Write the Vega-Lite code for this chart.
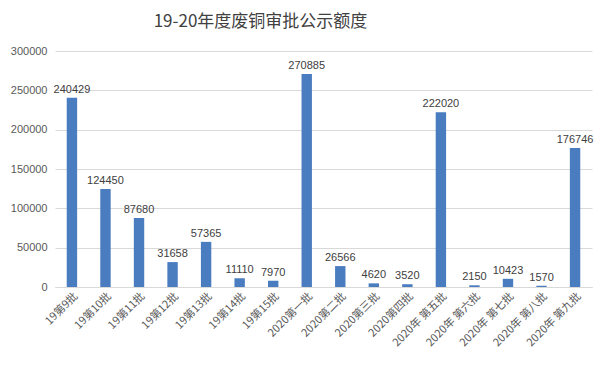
{
  "$schema": "https://vega.github.io/schema/vega-lite/v6.json",
  "autosize": "none",
  "width": 537,
  "height": 236,
  "padding": {"left": 55, "top": 51, "right": 15, "bottom": 82},
  "background": "white",
  "title": {
    "text": "19-20年度废铜审批公示额度",
    "font": "Noto Sans CJK SC",
    "fontSize": 17,
    "fontWeight": "normal",
    "color": "#404040",
    "anchor": "middle",
    "dx": -63,
    "offset": 14
  },
  "data": {
    "values": [
      {"batch": "19第9批", "value": 240429},
      {"batch": "19第10批", "value": 124450},
      {"batch": "19第11批", "value": 87680},
      {"batch": "19第12批", "value": 31658},
      {"batch": "19第13批", "value": 57365},
      {"batch": "19第14批", "value": 11110},
      {"batch": "19第15批", "value": 7970},
      {"batch": "2020第一批", "value": 270885},
      {"batch": "2020第二批", "value": 26566},
      {"batch": "2020第三批", "value": 4620},
      {"batch": "2020第四批", "value": 3520},
      {"batch": "2020年 第五批", "value": 222020},
      {"batch": "2020年 第六批", "value": 2150},
      {"batch": "2020年 第七批", "value": 10423},
      {"batch": "2020年 第八批", "value": 1570},
      {"batch": "2020年 第九批", "value": 176746}
    ]
  },
  "encoding": {
    "x": {
      "field": "batch",
      "type": "nominal",
      "sort": null,
      "title": null,
      "scale": {"paddingInner": 0.69, "paddingOuter": 0.35},
      "axis": {
        "labelAngle": -45,
        "labelFont": "Noto Sans CJK SC",
        "labelFontSize": 11,
        "labelColor": "#595959",
        "domainColor": "#d9d9d9",
        "ticks": false,
        "labelPadding": 3
      }
    },
    "y": {
      "field": "value",
      "type": "quantitative",
      "title": null,
      "scale": {"domain": [0, 300000]},
      "axis": {
        "values": [0, 50000, 100000, 150000, 200000, 250000, 300000],
        "format": "d",
        "labelFont": "Liberation Sans",
        "labelFontSize": 11,
        "labelColor": "#595959",
        "domain": false,
        "ticks": false,
        "gridColor": "#d9d9d9",
        "labelPadding": 8
      }
    }
  },
  "layer": [
    {"mark": {"type": "bar", "color": "#4a7cc0"}},
    {
      "mark": {"type": "text", "dy": -8, "font": "Liberation Sans", "fontSize": 11, "color": "#404040"},
      "encoding": {"text": {"field": "value", "type": "quantitative", "format": "d"}}
    }
  ],
  "config": {"view": {"stroke": null}}
}
